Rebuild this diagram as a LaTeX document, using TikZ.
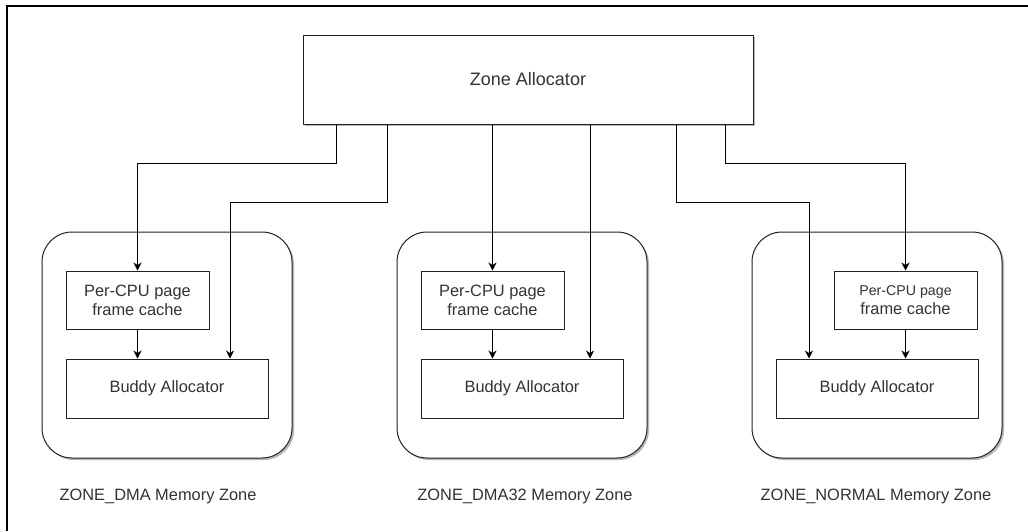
\documentclass[tikz,border=0pt]{standalone}
\usepackage{fontspec}
\setmainfont{Liberation Sans}
\usetikzlibrary{arrows.meta,shadows}
\definecolor{ink}{HTML}{333333}
\definecolor{edge}{HTML}{222222}
\begin{document}
\begin{tikzpicture}[x=1pt,y=-1pt,
  txt/.style={text=ink,font=\fontsize{16.4}{19}\selectfont},
  box/.style={draw=edge,line width=1pt,fill=white,txt,align=center,inner sep=0pt},
  shd/.style={drop shadow={shadow xshift=2pt,shadow yshift=-2pt,fill=black!35,opacity=0.8}},
  zone/.style={box,rounded corners=30pt,minimum width=250pt,minimum height=226pt,shd},
  pcpu/.style={box,minimum width=143pt,minimum height=58pt},
  buddy/.style={box,minimum width=202pt,minimum height=59pt},
  arr/.style={draw=black,line width=0.9pt,-{Stealth[length=8pt,width=8pt]}}]
\useasboundingbox (0,0) rectangle (1028,531);
\fill[white] (0,0) rectangle (1028,531);
% frame
\draw[black,line width=1.3pt] (7,531) -- (7,6) -- (1028,6);
% top
\node[box,shd,minimum width=450pt,minimum height=89pt,font=\fontsize{18}{21}\selectfont] (za) at (528,79.5) {Zone Allocator};
% zones
\node[zone] (zl) at (167,345) {};
\node[zone] (zm) at (522,345) {};
\node[zone] (zr) at (877,345) {};
\node[pcpu] (pl) at (137.5,300) {Per-CPU page\\frame cache};
\node[pcpu] (pm) at (492.5,300) {Per-CPU page\\frame cache};
\node[pcpu] (pr) at (905.5,300) {{\fontsize{14.2}{17}\selectfont Per-CPU page}\\frame cache};
\node[buddy] (bl) at (167,388.5) {Buddy Allocator};
\node[buddy] (bm) at (522,388.5) {Buddy Allocator};
\node[buddy] (br) at (877,388.5) {Buddy Allocator};
% labels
\node[txt] (ll) at (158,496) {ZONE\_DMA Memory Zone};
\node[txt] (lm) at (525,496) {ZONE\_DMA32 Memory Zone};
\node[txt] (lr) at (876,496) {ZONE\_NORMAL Memory Zone};
% connectors
\coordinate (hA) at (0,163);
\coordinate (hB) at (0,202);
\draw[arr] ([xshift=-192pt]za.south) |- (pl.north |- hA) -- (pl.north);
\draw[arr] ([xshift=-141pt]za.south) |- ([xshift=63pt]bl.north |- hB) -- ([xshift=63pt]bl.north);
\draw[arr] (za.south -| pm.north) -- (pm.north);
\draw[arr] ([xshift=68pt]za.south -| bm.north) -- ([xshift=68pt]bm.north);
\draw[arr] ([xshift=148pt]za.south) |- ([xshift=-68pt]br.north |- hB) -- ([xshift=-68pt]br.north);
\draw[arr] ([xshift=197pt]za.south) |- (pr.north |- hA) -- (pr.north);
\draw[arr] (pl.south) -- (pl.south |- bl.north);
\draw[arr] (pm.south) -- (pm.south |- bm.north);
\draw[arr] (pr.south) -- (pr.south |- br.north);
\end{tikzpicture}
\end{document}
